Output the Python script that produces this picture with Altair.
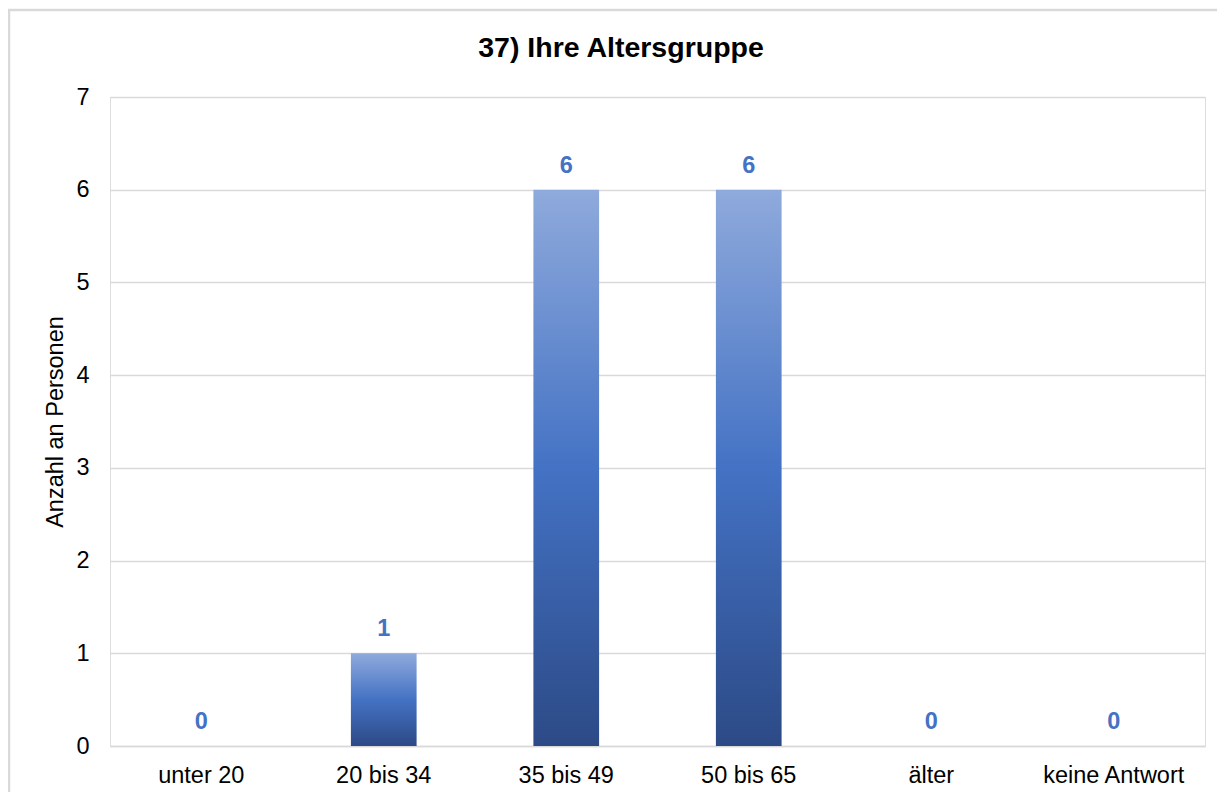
import altair as alt
import pandas as pd

categories = ["unter 20", "20 bis 34", "35 bis 49", "50 bis 65", "älter", "keine Antwort"]
values = [0, 1, 6, 6, 0, 0]
title_text = "37) Ihre Altersgruppe"

df = pd.DataFrame({"cat": categories, "val": values})

FONT = "Liberation Sans"
FS = 23.5
grad = alt.Gradient(
    gradient="linear", x1=0, x2=0, y1=0, y2=1,
    stops=[
        alt.GradientStop(color="#8FAADC", offset=0),
        alt.GradientStop(color="#4472C4", offset=0.5),
        alt.GradientStop(color="#2C4A86", offset=1),
    ],
)

x_enc = alt.X("cat:N", sort=categories, title=None,
              scale=alt.Scale(paddingInner=0.64, paddingOuter=0.32),
              axis=alt.Axis(labelAngle=0, labelFont=FONT, labelFontSize=FS, labelColor="#000000",
                            labelPadding=17, ticks=False, domain=True, domainColor="#D9D9D9",
                            domainWidth=1.5, grid=False))
y_enc = alt.Y("val:Q", title="Anzahl an Personen",
              scale=alt.Scale(domain=[0, 7], nice=False),
              axis=alt.Axis(values=list(range(0, 8)), format="d", labelFont=FONT, labelFontSize=FS,
                            labelColor="#000000", labelPadding=21, ticks=False, domain=False,
                            gridColor="#D9D9D9", gridWidth=1.5, titleFont=FONT,
                            titleFontSize=FS, titleFontWeight="normal", titleColor="#000000",
                            titlePadding=8))

border = alt.Chart(pd.DataFrame({"a": [0]})).mark_rect(
    fill=None, stroke="#D9D9D9", strokeWidth=2.5
).encode(x=alt.value(-101), x2=alt.value(1130), y=alt.value(-87), y2=alt.value(720))

title = alt.Chart(pd.DataFrame({"t": [title_text]})).mark_text(
    font=FONT, fontSize=28.5, fontWeight="bold", color="#000000", baseline="alphabetic", align="center"
).encode(x=alt.value(511), y=alt.value(-40), text="t:N")

bars = alt.Chart(df).mark_bar(color=grad, cornerRadius=0).encode(x=x_enc, y=y_enc)

labels = alt.Chart(df).mark_text(
    font=FONT, fontSize=FS, fontWeight="bold", color="#4472C4", baseline="middle", dy=-24
).encode(x=alt.X("cat:N", sort=categories), y="val:Q", text="val:Q")

chart = alt.layer(border, title, bars, labels).properties(
    width=1095, height=649,
    autosize=alt.AutoSizeParams(type="none"),
    padding={"left": 102, "top": 89, "right": 12, "bottom": 46},
).configure_view(stroke=None).configure(background="white")

chart.save("out.html", embed_options={"renderer": "svg", "actions": False})
